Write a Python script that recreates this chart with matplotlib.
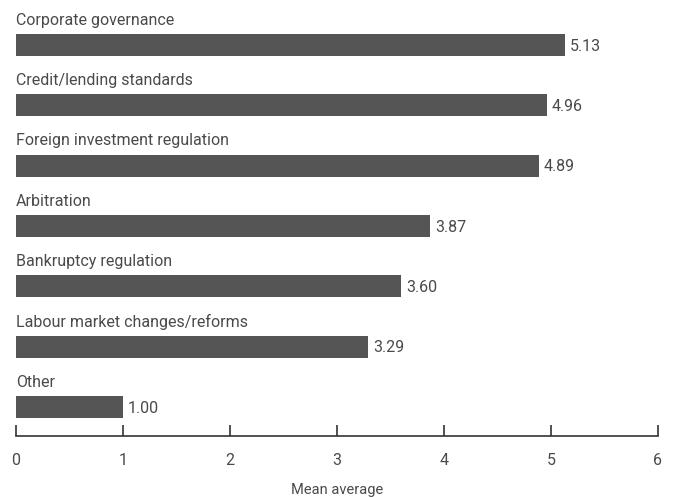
import matplotlib
matplotlib.use('Agg')
import matplotlib.pyplot as plt

categories = ['Corporate governance', 'Credit/lending standards', 'Foreign investment regulation',
              'Arbitration', 'Bankruptcy regulation', 'Labour market changes/reforms', 'Other']
values = [5.13, 4.96, 4.89, 3.87, 3.60, 3.29, 1.00]
xticks = [0, 1, 2, 3, 4, 5, 6]

plt.rcParams['font.family'] = ['Roboto', 'DejaVu Sans']
text_color = '#4a4a4a'
bar_color = '#555555'
fs = 11.5

fig = plt.figure(figsize=(6.73, 4.97), dpi=100)
ax = fig.add_axes([16 / 673, 61 / 497, 642 / 673, 436 / 497])

ypos = list(range(len(categories)))
ax.barh(ypos, values, height=0.365, color=bar_color)

for y, name, v in zip(ypos, categories, values):
    ax.text(0, y - 0.41, name, ha='left', va='center', fontsize=fs, color=text_color)
    ax.text(v + 0.045, y + 0.02, '%.2f' % v, ha='left', va='center', fontsize=fs, color=text_color)

ax.set_xlim(0, 6)
ax.set_ylim(6.48, -0.746)
ax.set_xticks(xticks)
ax.set_yticks([])
for s in ['top', 'right', 'left']:
    ax.spines[s].set_visible(False)
ax.spines['bottom'].set_color('#333333')
ax.spines['bottom'].set_linewidth(1.2)
ax.tick_params(axis='x', direction='in', length=8, width=1.2, color='#333333',
               pad=12, labelsize=fs, labelcolor=text_color)
ax.set_xlabel('Mean average', fontsize=10.5, color=text_color, labelpad=11)

fig.savefig('out.png', dpi=100)
